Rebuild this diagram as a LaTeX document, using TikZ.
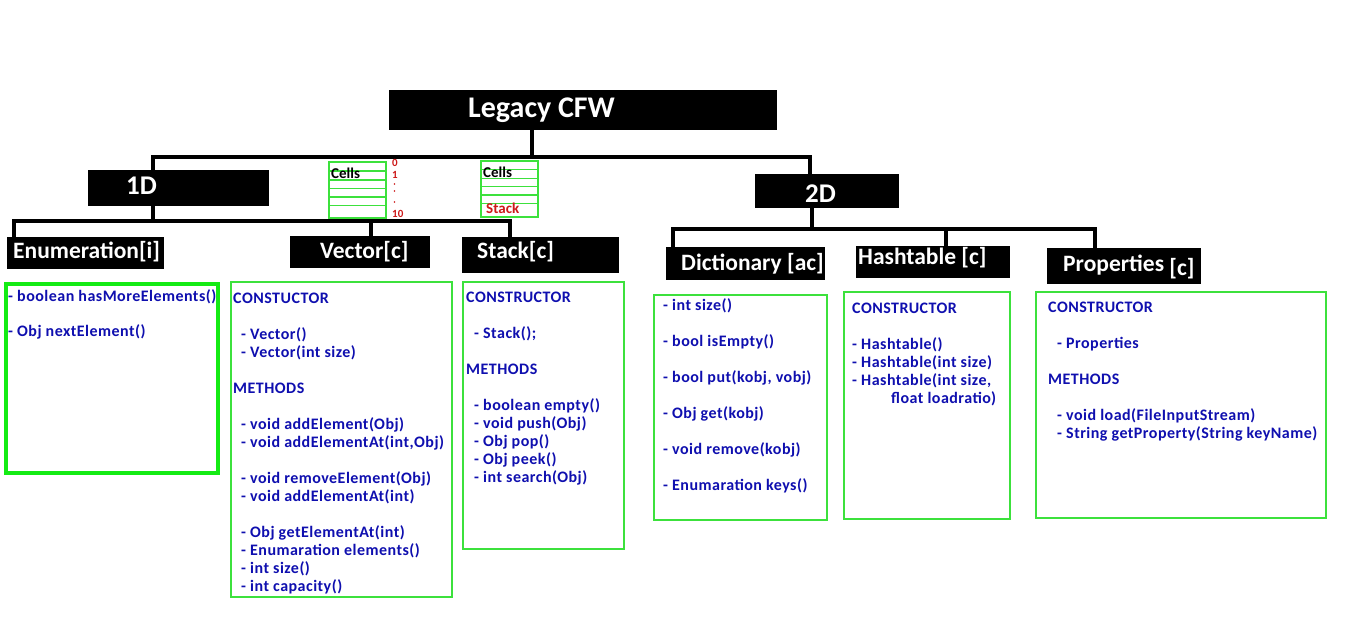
\documentclass[tikz,border=0pt]{standalone}
\usepackage{fontspec}
\setmainfont{Carlito}
\newfontfamily\bodyfont[LetterSpace=3]{Carlito}
\usetikzlibrary{backgrounds}
\definecolor{grn}{RGB}{60,225,60}
\definecolor{grnB}{RGB}{20,235,20}
\definecolor{navyb}{RGB}{15,15,175}
\definecolor{redc}{RGB}{205,25,25}
\tikzset{
  blk/.style={fill=black, draw=none, inner sep=0pt},
  hdr/.style={text=white, font=\bfseries\fontsize{23.5}{26}\selectfont, anchor=base west, inner sep=0pt},
  gbox/.style={draw=grn, line width=2pt, inner sep=0pt},
  body/.style={text=navyb, font=\bodyfont\bfseries\fontsize{16}{18}\selectfont, anchor=base west, inner sep=0pt},
  conn/.style={draw=black, line width=4pt},
  cellline/.style={draw=grn, line width=1.2pt},
  redt/.style={text=redc, font=\bfseries\fontsize{11}{12}\selectfont, anchor=base west, inner sep=0pt},
  reddot/.style={fill=redc, draw=none, circle, inner sep=0pt, minimum size=1.6pt},
  cellt/.style={font=\bfseries\fontsize{15}{17}\selectfont, anchor=base west, inner sep=0pt},
}
\begin{document}
\begin{tikzpicture}[x=1pt,y=-1pt]
\useasboundingbox (0,0) rectangle (1348,627);
\begin{scope}[on background layer]
\fill[white] (0,0) rectangle (1348,627);
\end{scope}

% header boxes
\node[blk, minimum width=388, minimum height=40] (legacy) at (583,110) {};
\node[blk, minimum width=181, minimum height=36] (oneD) at (178.5,188) {};
\node[blk, minimum width=144, minimum height=34] (twoD) at (827,191) {};
\node[blk, minimum width=157, minimum height=32] (enumH) at (85.5,253) {};
\node[blk, minimum width=140, minimum height=32] (vecH) at (360,252) {};
\node[blk, minimum width=157, minimum height=36] (stkH) at (540.5,255) {};
\node[blk, minimum width=159, minimum height=33] (dicH) at (745.5,263.5) {};
\node[blk, minimum width=154, minimum height=32] (hashH) at (933,262) {};
\node[blk, minimum width=154, minimum height=36] (propH) at (1124,266) {};

% header texts
\node[hdr, font=\bfseries\fontsize{30}{33}\selectfont] (legacyT) at (468,117) {Legacy CFW};
\node[hdr, font=\bfseries\fontsize{27}{30}\selectfont] (oneDT) at (126,194) {1D};
\node[hdr, font=\bfseries\fontsize{27}{30}\selectfont] (twoDT) at (805,202) {2D};
\node[hdr] (enumT) at (13,258) {Enumeration[i]};
\node[hdr] (vecT) at (320,258) {Vector[c]};
\node[hdr] (stkT) at (477,258) {Stack[c]};
\node[hdr] (dicT) at (681,270) {Dictionary [ac]};
\node[hdr] (hashT) at (858,264) {Hashtable [c]};
\node[hdr] (propT) at (1063,271) {Properties \raisebox{-4pt}{[c]}};

% connectors
\coordinate (j0) at (532,157);
\coordinate (jL) at (153,157);
\coordinate (jR) at (810,157);
\coordinate (k1) at (153,221);
\coordinate (k0) at (14,221);
\coordinate (kV) at (371,221);
\coordinate (kS) at (510,221);
\coordinate (m1) at (812,229);
\coordinate (mD) at (673,229);
\coordinate (mH) at (946,229);
\coordinate (mP) at (1095,229);
\begin{scope}[on background layer]
\draw[conn] (legacy.south -| j0) -- (j0);
\draw[conn] ([xshift=-2pt]jL) -- ([xshift=2pt]jR);
\draw[conn] (jL) -- (k1);
\draw[conn] ([xshift=-2pt]k0) -- ([xshift=2pt]kS);
\draw[conn] (k0) -- (enumH.north -| k0);
\draw[conn] (kV) -- (vecH.north -| kV);
\draw[conn] (kS) -- (stkH.north -| kS);
\draw[conn] (jR) -- (twoD.north -| jR);
\draw[conn] (twoD.south -| m1) -- (m1);
\draw[conn] ([xshift=-2pt]mD) -- ([xshift=2pt]mP);
\draw[conn] (mD) -- (dicH.north -| mD);
\draw[conn] (mH) -- (hashH.north -| mH);
\draw[conn] (mP) -- (propH.north -| mP);
\end{scope}

% cells (vector)
\node[gbox, line width=1.5pt, minimum width=57, minimum height=56, fill=white] (cellsL) at (357.5,190) {};
\foreach \yy in {171,180,188.5,197,205.5}
  \draw[cellline] (cellsL.west |- 0,\yy) -- (cellsL.east |- 0,\yy);
\node[cellt] (cellsLT) at (331,178) {Cells};
\node[redt] (r0) at (392,166) {0};
\node[redt] (r1) at (392,178) {1};
\node[reddot] (r2) at (394.5,184) {};
\node[reddot] (r3) at (394.5,191) {};
\node[reddot] (r4) at (394.5,202) {};
\node[redt] (r10) at (392,217) {10};

% cells (stack)
\node[gbox, line width=1.5pt, minimum width=57, minimum height=56, fill=white] (cellsR) at (509.5,189) {};
\foreach \yy in {169.3,178.3,186.7,195,203.3}
  \draw[cellline] (cellsR.west |- 0,\yy) -- (cellsR.east |- 0,\yy);
\node[cellt] (cellsRT) at (483,177) {Cells};
\node[cellt, text=redc] (stackRT) at (486,213) {Stack};

% content boxes
\node[gbox, draw=grnB, line width=4pt, minimum width=212, minimum height=189] (enumB) at (112,378.5) {};
\node[gbox, minimum width=221, minimum height=315] (vecB) at (341.5,439.5) {};
\node[gbox, minimum width=161, minimum height=267] (stkB) at (543.5,415.5) {};
\node[gbox, minimum width=173, minimum height=225] (dicB) at (740.5,407.5) {};
\node[gbox, minimum width=166, minimum height=227] (hashB) at (927,405.5) {};
\node[gbox, minimum width=290, minimum height=226] (propB) at (1181,405) {};

% Enumeration
\node[body] (e1) at (8,301) {- boolean hasMoreElements()};
\node[body] (e2) at (8,336) {- Obj nextElement()};

% Vector
\node[body] (v1) at (233,303) {CONSTUCTOR};
\node[body] (v2) at (241,339) {- Vector()};
\node[body] (v3) at (241,357) {- Vector(int size)};
\node[body] (v4) at (233,393) {METHODS};
\node[body] (v5) at (241,429) {- void addElement(Obj)};
\node[body] (v6) at (241,447) {- void addElementAt(int,Obj)};
\node[body] (v7) at (241,483) {- void removeElement(Obj)};
\node[body] (v8) at (241,501) {- void addElementAt(int)};
\node[body] (v9) at (241,537) {- Obj getElementAt(int)};
\node[body] (v10) at (241,555) {- Enumaration elements()};
\node[body] (v11) at (241,573) {- int size()};
\node[body] (v12) at (241,591) {- int capacity()};

% Stack
\node[body] (s1) at (466,302) {CONSTRUCTOR};
\node[body] (s2) at (474,338) {- Stack();};
\node[body] (s3) at (466,374) {METHODS};
\node[body] (s4) at (474,410) {- boolean empty()};
\node[body] (s5) at (474,428) {- void push(Obj)};
\node[body] (s6) at (474,446) {- Obj pop()};
\node[body] (s7) at (474,464) {- Obj peek()};
\node[body] (s8) at (474,482) {- int search(Obj)};

% Dictionary
\node[body] (d1) at (663,310) {- int size()};
\node[body] (d2) at (663,346) {- bool isEmpty()};
\node[body] (d3) at (663,382) {- bool put(kobj, vobj)};
\node[body] (d4) at (663,418) {- Obj get(kobj)};
\node[body] (d5) at (663,454) {- void remove(kobj)};
\node[body] (d6) at (663,490) {- Enumaration keys()};

% Hashtable
\node[body] (h1) at (852,313) {CONSTRUCTOR};
\node[body] (h2) at (852,349) {- Hashtable()};
\node[body] (h3) at (852,367) {- Hashtable(int size)};
\node[body] (h4) at (852,385) {- Hashtable(int size,};
\node[body] (h5) at (891,403) {float loadratio)};

% Properties
\node[body] (p1) at (1048,312) {CONSTRUCTOR};
\node[body] (p2) at (1057,348) {- Properties};
\node[body] (p3) at (1048,384) {METHODS};
\node[body] (p4) at (1057,420) {- void load(FileInputStream)};
\node[body] (p5) at (1057,438) {- String getProperty(String keyName)};
\end{tikzpicture}
\end{document}
